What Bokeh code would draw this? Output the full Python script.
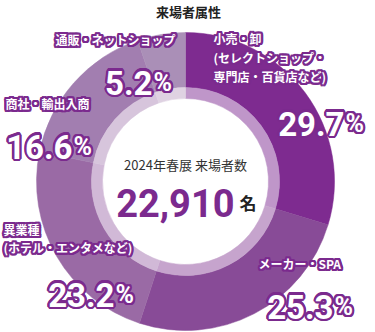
import math
from bokeh.plotting import figure
from bokeh.models import Range1d, ColumnDataSource
from bokeh.core.properties import value
from bokeh.embed import file_html
from bokeh.resources import INLINE

# ---- data ----
title = "来場者属性"
categories = ["小売・卸", "メーカー・SPA", "異業種", "商社・輸出入商", "通販・ネットショップ"]
label_lines = [
    ["小売・卸", "(セレクトショップ・", "専門店・百貨店など)"],
    ["メーカー・SPA"],
    ["異業種", "(ホテル・エンタメなど)"],
    ["商社・輸出入商"],
    ["通販・ネットショップ"],
]
shares = [29.7, 25.3, 23.2, 16.6, 5.2]
center_caption = "2024年春展 来場者数"
visitors = 22910
visitors_unit = "名"

# ---- style ----
outer_colors = ["#7e2b90", "#884b97", "#9a6aa5", "#a27eb0", "#aa8fb7"]
inner_colors = ["#bf96c9", "#c6a4cd", "#d1b9d7", "#d7c5dc", "#dfd2e2"]
outline = "#7b2a8e"
W, H = 375, 332
cx, cy = 185, H - 181
R_out, R_mid, R_in = 149, 94, 83

# label layout (image coordinates)
label_layout = [
    dict(x=213, y=38, gap=19, align="left", px=344, py=123),
    dict(x=258, y=263, gap=19, align="left", px=333, py=306),
    dict(x=3, y=229, gap=18, align="left", px=114, py=294),
    dict(x=5, y=103, gap=19, align="left", px=72, py=146),
    dict(x=55, y=39, gap=19, align="left", px=152, py=82),
]

p = figure(width=W, height=H, x_range=Range1d(0, W), y_range=Range1d(0, H),
           output_backend="svg", toolbar_location=None, min_border=0,
           x_axis_type=None, y_axis_type=None, outline_line_color=None,
           background_fill_color="white", border_fill_color="white")
p.xgrid.visible = False
p.ygrid.visible = False

starts, ends = [], []
cum = 0.0
total = sum(shares)
for s in shares:
    starts.append(math.pi / 2 - 2 * math.pi * cum / total)
    cum += s
    ends.append(math.pi / 2 - 2 * math.pi * cum / total)

src = ColumnDataSource(dict(start=starts, end=ends, oc=outer_colors, ic=inner_colors,
                            x=[cx] * len(shares), y=[cy] * len(shares)))
p.annular_wedge(x="x", y="y", inner_radius=R_mid, outer_radius=R_out,
                start_angle="start", end_angle="end", direction="clock",
                fill_color="oc", line_color="oc", line_width=0.5, source=src)
p.annular_wedge(x="x", y="y", inner_radius=R_in, outer_radius=R_mid,
                start_angle="start", end_angle="end", direction="clock",
                fill_color="ic", line_color="ic", line_width=0.5, source=src)

offsets = [(2.3 * math.cos(a), 2.3 * math.sin(a)) for a in [i * math.pi / 8 for i in range(16)]]


def outlined_text(x, y, txt, size, font, align="left", baseline="middle"):
    for dx, dy in offsets:
        p.text(x=[x], y=[y], text=[txt], x_offset=dx, y_offset=dy,
               text_font=value(font), text_font_size=f"{size}px", text_font_style="bold",
               text_color=outline, text_align=align, text_baseline=baseline)
    p.text(x=[x], y=[y], text=[txt],
           text_font=value(font), text_font_size=f"{size}px", text_font_style="bold",
           text_color="white", text_align=align, text_baseline=baseline)


for lines, share, lay in zip(label_lines, shares, label_layout):
    for i, ln in enumerate(lines):
        outlined_text(lay["x"], H - (lay["y"] + i * lay["gap"]), ln, 12,
                      "Noto Sans CJK JP", align=lay["align"])
    outlined_text(lay["px"], H - lay["py"], f"{share:.1f}", 33, "Roboto",
                  align="right", baseline="alphabetic")
    outlined_text(lay["px"] + 1, H - lay["py"], "%", 25, "Roboto",
                  align="left", baseline="alphabetic")

p.text(x=[188], y=[H - 11], text=[title], text_font=value("Noto Sans CJK JP"),
       text_font_size="13px", text_font_style="bold", text_color="#222222",
       text_align="center", text_baseline="middle")

p.text(x=[185], y=[H - 164], text=[center_caption], text_font=value("Noto Sans CJK JP"),
       text_font_size="13px", text_color="#333333",
       text_align="center", text_baseline="middle")
p.text(x=[234], y=[H - 202], text=[f"{visitors:,}"], text_font=value("Roboto"),
       text_font_size="38px", text_font_style="bold", text_color="#7b2a8e",
       text_align="right", text_baseline="alphabetic")
p.text(x=[239], y=[H - 202], text=[visitors_unit], text_font=value("Noto Sans CJK JP"),
       text_font_size="17px", text_font_style="bold", text_color="#222222",
       text_align="left", text_baseline="alphabetic")

open("out.html", "w").write(file_html(p, INLINE))
